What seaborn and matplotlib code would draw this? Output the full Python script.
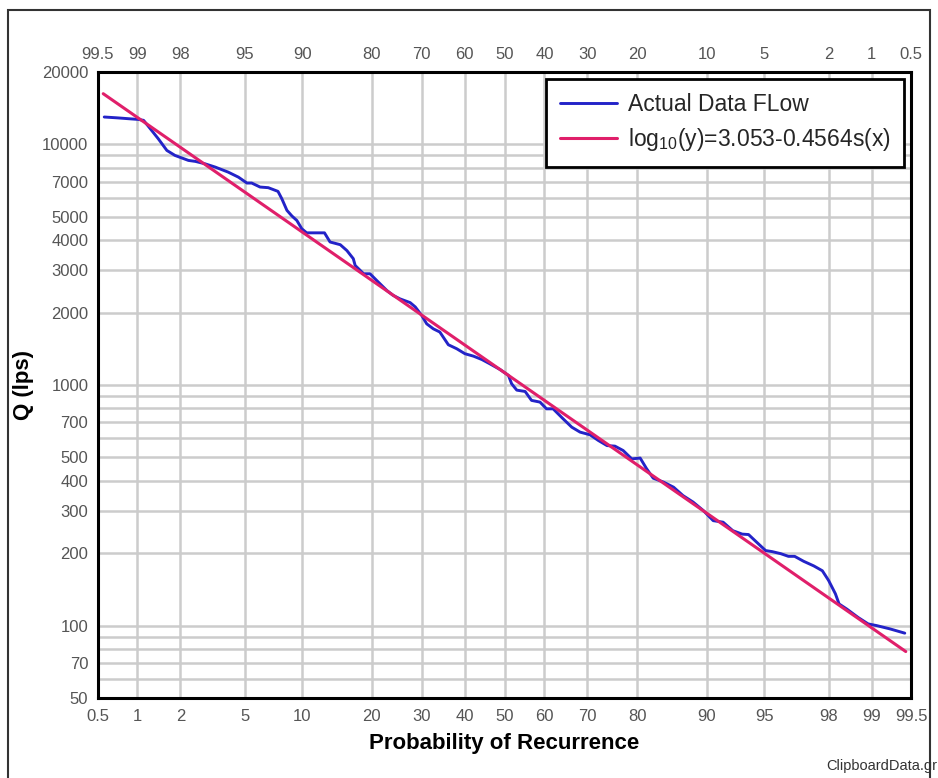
import numpy as np
import pandas as pd
import matplotlib
matplotlib.use("Agg")
import matplotlib.pyplot as plt
import seaborn as sns
from matplotlib.patches import Rectangle
from matplotlib.ticker import NullFormatter
from statistics import NormalDist

# probabilidad de recurrencia (%) y caudal Q (lps)
prob = [0.56, 0.70, 0.86, 1.02, 1.11, 1.24, 1.41, 1.62, 1.84, 2.26, 2.51, 2.88, 3.34,
        4.0, 4.59, 5.13, 5.46, 6.07, 6.72, 7.56, 7.91, 8.40, 8.90, 9.41, 9.95, 10.5,
        12.7, 13.45, 14.9, 15.9, 16.9, 17.2, 18.6, 19.7, 20.9, 22.8, 24.0, 25.4, 27.5,
        28.6, 30.0, 31.1, 32.6, 34.1, 36.1, 38.1, 40.1, 42.2, 44.3, 46.3, 48.9, 51.0,
        51.8, 53.1, 55.2, 56.8, 58.9, 60.5, 62.1, 64.5, 66.5, 68.4, 70.6, 72.4, 74.2,
        75.8, 77.4, 79.0, 80.5, 81.6, 82.7, 84.3, 85.8, 87.1, 88.4, 89.6, 90.7, 91.7,
        92.6, 93.4, 93.9, 94.5, 95.1, 95.5, 96.0, 96.4, 96.7, 97.1, 97.5, 97.8, 98.0,
        98.2, 98.3, 98.5, 98.75, 98.94, 99.08, 99.27, 99.44]
caudal = [13000, 12900, 12790, 12700, 12590, 11620, 10570, 9440, 9000, 8580, 8500, 8310,
          8050, 7670, 7310, 6910, 6910, 6650, 6610, 6380, 5950, 5320, 5040, 4830, 4460,
          4290, 4290, 3930, 3830, 3620, 3350, 3140, 2900, 2900, 2720, 2470, 2360, 2280,
          2200, 2110, 1945, 1796, 1712, 1660, 1470, 1415, 1349, 1318, 1276, 1225, 1159,
          1096, 1012, 952, 940, 863, 849, 796, 796, 723, 668, 637, 621, 588, 560, 557,
          534, 493, 497, 449, 410, 395, 376, 347, 326, 301, 273, 269, 248, 240, 239, 222,
          205, 203, 199, 194, 194, 185, 177, 169, 154, 135.5, 123, 117, 108, 101.6, 100,
          96.9, 93]

# extremos de la recta ajustada log10(y)=3.053-0.4564s(x)
ajuste_prob = [0.55, 99.45]
ajuste_q = [16250, 78]

ticks_prob = [0.5, 1, 2, 5, 10, 20, 30, 40, 50, 60, 70, 80, 90, 95, 98, 99, 99.5]
etiquetas_abajo = ["0.5", "1", "2", "5", "10", "20", "30", "40", "50", "60", "70", "80",
                   "90", "95", "98", "99", "99.5"]
etiquetas_arriba = ["99.5", "99", "98", "95", "90", "80", "70", "60", "50", "40", "30",
                    "20", "10", "5", "2", "1", "0.5"]
ticks_q = [50, 70, 100, 200, 300, 400, 500, 700, 1000, 2000, 3000, 4000, 5000, 7000,
           10000, 20000]
grilla_q = [60, 80, 90, 600, 800, 900, 6000, 8000, 9000]

_nd = NormalDist()


def prob_fwd(p):
    p = np.clip(np.asarray(p, dtype=float), 1e-9, 100 - 1e-9)
    return np.vectorize(_nd.inv_cdf, otypes=[float])(p / 100)


def prob_inv(z):
    z = np.asarray(z, dtype=float)
    return np.vectorize(_nd.cdf, otypes=[float])(z) * 100


sns.set_theme(style="white")
plt.rcParams["font.family"] = ["Liberation Sans", "DejaVu Sans"]
plt.rcParams["mathtext.default"] = "regular"

df = pd.DataFrame({"prob": prob, "Q": caudal})
df_fit = pd.DataFrame({"prob": ajuste_prob, "Q": ajuste_q})

fig = plt.figure(figsize=(9.38, 7.78), dpi=100)
fig.subplots_adjust(left=98 / 938, right=911 / 938, top=1 - 72 / 778, bottom=1 - 698 / 778)
ax = fig.add_subplot(111)

sns.lineplot(data=df, x="prob", y="Q", ax=ax, color="#2323c8", lw=2.1,
             estimator=None, sort=False, label="Actual Data FLow", zorder=3)
sns.lineplot(data=df_fit, x="prob", y="Q", ax=ax, color="#e01f6a", lw=2.2,
             estimator=None, sort=False, label="log$_{10}$(y)=3.053-0.4564s(x)", zorder=4)

ax.set_xscale("function", functions=(prob_fwd, prob_inv))
ax.set_yscale("log")
ax.set_xlim(0.5, 99.5)
ax.set_ylim(50, 20000)

gris = "#555555"
ax.set_xticks(ticks_prob)
ax.set_xticklabels(etiquetas_abajo)
ax.xaxis.set_minor_locator(matplotlib.ticker.NullLocator())
ax.set_yticks(ticks_q)
ax.set_yticklabels([str(v) for v in ticks_q])
ax.set_yticks(grilla_q, minor=True)
ax.yaxis.set_minor_formatter(NullFormatter())
ax.tick_params(axis="both", which="both", length=0, labelsize=12, labelcolor=gris)
ax.tick_params(axis="x", pad=8)
ax.tick_params(axis="y", pad=7)
ax.grid(True, which="both", color="#cccccc", lw=1.8)

for s in ax.spines.values():
    s.set_color("black")
    s.set_linewidth(2.2)
    s.set_zorder(5)

ax2 = ax.twiny()
ax2.set_xscale("function", functions=(prob_fwd, prob_inv))
ax2.set_xlim(ax.get_xlim())
ax2.set_xticks(ticks_prob)
ax2.set_xticklabels(etiquetas_arriba)
ax2.xaxis.set_minor_locator(matplotlib.ticker.NullLocator())
ax2.tick_params(axis="x", length=0, labelsize=12, labelcolor=gris, pad=7)
for s in ax2.spines.values():
    s.set_visible(False)

ax.set_xlabel("Probability of Recurrence", fontsize=16, fontweight="bold", color="black")
ax.set_ylabel("Q (lps)", fontsize=16, fontweight="bold", color="black")
ax.xaxis.label.set_va("center")
ax.yaxis.label.set_va("center")
ax.xaxis.set_label_coords(0.5, -0.072)
ax.yaxis.set_label_coords(-0.092, 0.5)

leg = ax.legend(loc="upper right", fontsize=16.5, frameon=True, fancybox=False,
                framealpha=1, edgecolor="black", borderaxespad=0.3,
                handlelength=2.5, handletextpad=0.45, labelspacing=0.45, borderpad=0.6)
leg.get_frame().set_linewidth(2)
leg.set_zorder(6)

fig.text(0.999, 1 - 766 / 778, "ClipboardData.gr", ha="right", va="center",
         fontsize=10.5, color="#333333")

fig.patches.append(Rectangle((7.5 / 938, -0.02), (930 - 7.5) / 938, 1.02 - 10 / 778,
                             transform=fig.transFigure, fill=False, edgecolor="#333333",
                             lw=1.5))

fig.savefig("out.png", dpi=100)
